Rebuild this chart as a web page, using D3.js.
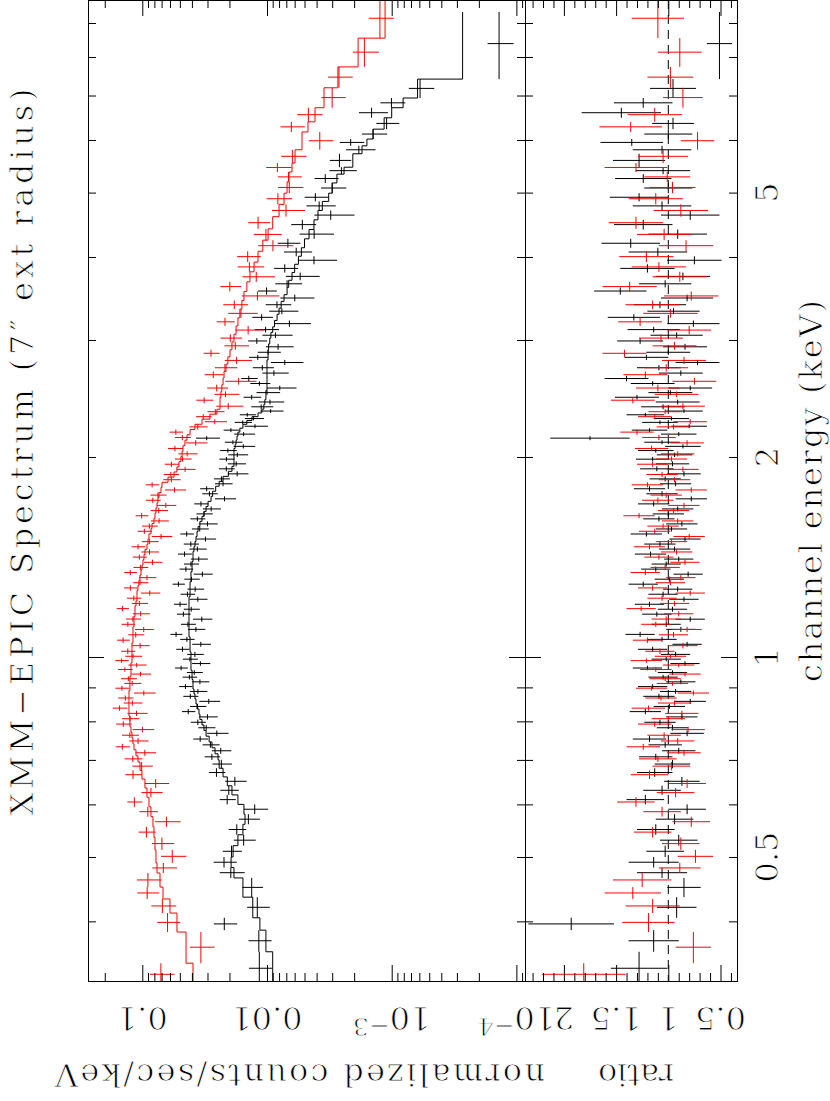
<!DOCTYPE html>
<html><head><meta charset="utf-8">
<script src="https://cdn.jsdelivr.net/npm/d3@7"></script>
<style>body{margin:0;background:#fff}svg{display:block}text{font-family:"DejaVu Serif","Liberation Serif",serif;fill:#000;stroke:#fff;stroke-width:0.9px}</style>
</head><body>
<svg id="c" width="830" height="1101"></svg>
<script>
// ---- black data set (energy bin edges in keV, model in counts/s/keV, data/model ratio and its error)
const blackEdges = [0.32,0.360,0.388,0.405,0.435,0.465,0.482,
 0.500,0.520,0.540,0.560,0.580,0.600,0.620,0.640,0.660,0.680,
 0.700,0.715,0.730,0.745,0.760,0.775,0.790,0.805,0.820,0.835,0.850,0.865,0.880,0.895,0.910,0.925,0.940,0.955,0.970,0.985,
 1.000,1.018,1.036,1.054,1.072,1.091,1.110,1.130,1.150,1.170,1.190,1.211,1.232,1.254,1.276,1.298,1.321,1.344,1.368,1.392,
 1.416,1.441,1.466,1.492,1.518,1.545,1.572,1.600,1.628,1.656,1.685,1.715,1.745,1.776,1.807,1.838,1.870,1.903,1.936,1.970,
 2.00,2.03,2.06,2.09,2.12,2.15,2.18,2.21,2.24,2.27,2.30,2.33,2.36,2.40,2.44,2.48,2.52,2.56,2.60,2.65,
 2.70,2.75,2.80,2.85,2.90,2.96,3.02,3.08,3.14,3.21,3.28,3.35,3.43,3.51,3.60,3.69,3.79,3.90,4.01,4.13,
 4.26,4.40,4.55,4.70,4.85,
 4.99,5.17,5.33,5.46,5.72,5.88,6.02,6.23,6.48,6.71,6.94,7.41,9.35];
const blackModel = [0.0090,0.0102,0.0114,0.0130,0.0156,0.0184,0.0194,
 0.0187,0.0171,0.0156,0.0150,0.0153,0.0171,0.0191,0.0208,0.0225,0.0242,
 0.0247,0.0261,0.0276,0.0291,0.0308,0.0320,0.0332,0.0345,0.0351,0.0364,0.0371,0.0378,0.0385,0.0392,0.0392,0.0399,0.0399,0.0407,0.0407,0.0407,
 0.0407,0.0414,0.0414,0.0414,0.0422,0.0422,0.0422,0.0422,0.0422,0.0422,0.0422,0.0422,0.0414,0.0414,0.0414,0.0407,0.0407,0.0399,0.0399,0.0392,
 0.0392,0.0385,0.0378,0.0371,0.0364,0.0357,0.0345,0.0332,0.0320,0.0308,0.0297,0.0281,0.0273,0.0258,0.0242,0.0225,0.0204,0.0191,0.0184,0.0184,
 0.0184,0.0184,0.0180,0.0177,0.0174,0.0171,0.0165,0.0156,0.0145,0.0132,0.0118,0.0110,0.0106,0.0104,0.0102,0.0102,0.0100,0.0100,0.0100,0.0100,
 0.0100,0.0100,0.0098,0.0098,0.0097,0.0095,0.0093,0.0090,0.0087,0.0083,0.0080,0.0077,0.0073,0.0069,0.0067,0.0063,0.0060,0.0056,0.0053,0.0050,
 0.0046,0.0042,0.0039,0.0036,0.0032,
 0.0030,0.00275,0.00241,0.00205,0.00173,0.00158,0.00141,0.00115,0.00100,0.00081,0.00062,0.00027];
const blackRatio = [1.28,1.14,1.93,0.92,0.85,1.06,1.14,
 1.03,0.90,1.12,0.94,0.82,1.22,1.06,0.87,1.13,0.96,
 1.12,0.90,1.03,1.18,0.82,0.96,1.08,0.87,1.22,0.99,0.79,1.09,0.93,1.15,0.88,1.05,0.96,1.20,0.84,1.02,
 0.93,1.15,0.82,1.06,1.27,0.88,1.02,0.79,1.11,0.96,1.18,0.85,1.05,0.91,1.24,0.99,0.81,1.12,1.02,0.90,
 1.17,0.94,1.08,0.84,1.21,0.97,0.87,1.09,1.00,0.91,1.14,0.78,1.06,1.18,0.93,1.03,0.85,1.11,0.96,1.15,
 0.94,1.12,0.86,1.06,1.75,0.90,1.18,0.80,1.08,0.97,1.22,0.85,1.05,0.91,1.30,0.98,0.79,1.15,1.40,0.88,
 1.09,0.72,1.21,1.00,0.84,1.27,0.92,1.14,0.76,1.33,0.95,1.08,0.82,1.46,1.03,0.86,1.20,0.75,1.10,1.36,
 0.91,1.24,0.79,1.06,1.28,
 1.00,1.24,1.05,1.28,1.06,1.35,1.00,0.955,1.45,1.24,0.955,0.51];
const blackRatioErr = [0.27,0.24,0.41,0.19,0.16,0.24,0.24,
 0.18,0.18,0.18,0.18,0.18,0.18,0.18,0.17,0.17,0.17,
 0.16,0.16,0.16,0.16,0.16,0.15,0.15,0.15,0.15,0.15,0.15,0.15,0.15,0.14,0.14,0.14,0.14,0.14,0.14,0.14,
 0.14,0.14,0.14,0.14,0.14,0.14,0.14,0.14,0.14,0.14,0.14,0.14,0.14,0.14,0.14,0.14,0.14,0.14,0.14,0.14,
 0.15,0.15,0.15,0.15,0.15,0.15,0.15,0.15,0.15,0.15,0.15,0.15,0.15,0.15,0.15,0.15,0.16,0.16,0.16,0.16,
 0.17,0.17,0.17,0.17,0.38,0.17,0.17,0.17,0.17,0.17,0.18,0.18,0.21,0.21,0.21,0.21,0.21,0.21,0.21,0.21,
 0.21,0.21,0.21,0.21,0.21,0.22,0.25,0.25,0.25,0.25,0.25,0.25,0.25,0.25,0.25,0.26,0.26,0.26,0.28,0.28,
 0.28,0.28,0.28,0.28,0.28,
 0.23,0.27,0.26,0.25,0.28,0.30,0.23,0.20,0.38,0.28,0.22,0.12];

// ---- red data set
const redEdges = [0.32,0.346,0.3855,0.4117,0.4323,0.4505,0.473,0.4898,
 0.5125,0.535,0.555,0.575,0.595,0.615,0.635,0.655,0.675,0.695,0.710,0.725,0.740,0.755,0.770,0.785,0.800,0.815,0.830,0.845,
 0.860,0.875,0.890,0.905,0.920,0.935,0.950,0.965,0.980,0.995,
 1.010,1.030,1.050,1.070,1.090,1.110,1.130,1.151,1.172,1.193,1.215,1.237,1.259,1.282,1.305,1.328,1.352,1.376,1.401,1.426,
 1.452,1.478,1.505,1.532,1.560,1.588,1.617,1.646,1.676,1.706,1.737,1.768,1.800,1.832,1.865,1.899,1.933,1.968,
 2.004,2.04,2.08,2.12,2.16,2.20,2.24,2.28,2.32,2.36,2.41,2.46,2.51,2.57,2.63,2.69,2.76,2.83,2.90,2.98,
 3.06,3.15,3.24,3.34,3.44,3.55,3.67,3.80,3.93,4.08,4.24,4.41,4.60,4.80,
 4.99,5.19,5.37,5.54,5.80,6.17,6.39,6.71,7.19,7.73,8.54,9.76];
const redModel = [0.0392,0.0446,0.0527,0.0600,0.0682,0.0721,0.0762,0.0777,
 0.0791,0.0806,0.0821,0.0852,0.0884,0.0917,0.0952,0.1006,0.1043,0.1083,0.1123,0.1166,0.1188,0.1210,0.1232,0.1256,0.1256,0.1279,0.1279,0.1279,
 0.1279,0.1279,0.1256,0.1256,0.1256,0.1232,0.1232,0.1232,0.1210,0.1210,
 0.1210,0.1210,0.1188,0.1188,0.1188,0.1166,0.1166,0.1144,0.1144,0.1123,0.1103,0.1103,0.1083,0.1063,0.1043,0.1024,0.1006,0.0987,0.0969,0.0952,
 0.0917,0.0900,0.0884,0.0852,0.0836,0.0806,0.0791,0.0777,0.0762,0.0749,0.0735,0.0708,0.0695,0.0622,0.0557,0.0527,0.0508,0.0490,
 0.0480,0.0472,0.0455,0.0438,0.0414,0.0378,0.0332,0.0287,0.0252,0.0238,0.0238,0.0234,0.0230,0.0225,0.0221,0.0213,0.0206,0.0198,0.0191,0.0184,
 0.0177,0.0171,0.0165,0.0159,0.0153,0.0145,0.0137,0.0127,0.0118,0.0108,0.0098,0.0090,0.0080,0.0073,
 0.0069,0.00666,0.0063,0.00596,0.00524,0.00469,0.00412,0.00349,0.00270,0.00186,0.00113];
const redRatio = [1.81,0.76,1.19,1.15,1.34,1.25,0.89,0.74,
 0.88,1.15,0.78,1.06,1.31,0.93,0.82,1.18,0.97,1.10,0.85,1.24,0.91,1.04,0.81,1.13,1.00,0.87,1.19,0.94,
 1.07,0.76,1.16,0.96,1.03,0.84,1.12,0.90,1.21,0.98,
 1.08,0.86,1.20,0.95,0.82,1.12,1.02,0.90,1.26,0.94,1.06,0.79,1.15,0.98,0.88,1.22,1.03,0.84,1.09,0.92,
 1.18,0.97,0.80,1.13,1.05,0.91,1.28,0.95,0.85,1.10,1.02,0.78,1.20,0.94,1.06,0.86,1.15,0.97,
 0.91,1.16,0.82,1.09,1.30,0.95,0.79,1.13,1.03,0.86,1.34,0.92,1.10,0.75,1.22,1.02,0.85,1.42,0.94,1.07,
 0.80,1.27,0.98,1.15,0.78,1.37,0.89,1.09,1.21,0.83,1.04,1.31,0.88,1.12,
 0.96,1.01,1.31,1.05,0.72,1.36,1.13,0.86,0.98,0.89,1.10];
const redRatioErr = [0.40,0.17,0.25,0.26,0.27,0.28,0.20,0.17,
 0.18,0.18,0.18,0.18,0.18,0.18,0.18,0.18,0.18,0.18,0.16,0.16,0.16,0.16,0.16,0.16,0.16,0.16,0.16,0.16,
 0.15,0.15,0.15,0.15,0.15,0.15,0.15,0.15,0.15,0.15,
 0.14,0.14,0.14,0.14,0.14,0.14,0.14,0.14,0.14,0.14,0.14,0.14,0.14,0.14,0.14,0.14,0.14,0.14,0.14,0.15,
 0.15,0.15,0.15,0.15,0.15,0.15,0.15,0.15,0.15,0.15,0.15,0.15,0.15,0.15,0.15,0.15,0.15,0.15,
 0.16,0.16,0.16,0.16,0.16,0.16,0.16,0.16,0.16,0.21,0.21,0.21,0.21,0.21,0.21,0.21,0.21,0.21,0.21,0.21,
 0.21,0.21,0.26,0.26,0.26,0.26,0.26,0.26,0.26,0.26,0.26,0.26,0.26,0.26,
 0.22,0.22,0.30,0.24,0.16,0.30,0.26,0.19,0.22,0.21,0.25];

// ---- axis labels
const energyLabelTicks = [0.5, 1, 2, 5];
const energyMajorTicks = [1];
const energyMinorTicks = [0.4, 0.5, 0.6, 0.7, 0.8, 0.9, 2, 3, 4, 5, 6, 7, 8, 9];
const countLabelTicks = [0.1, 0.01, 0.001, 0.0001];
const countLabelText = ["0.1", "0.01", "10", "10"];
const countLabelExp = ["", "", "\u22123", "\u22124"];
const ratioLabelTicks = [0.5, 1, 1.5, 2];
const ratioLabelText = ["0.5", "1", "1.5", "2"];
const titleText = "XMM\u2212EPIC Spectrum (7\u2033 ext radius)";
const energyTitle = "channel energy (keV)";
const countTitle = "normalized counts/sec/keV";
const ratioTitle = "ratio";

// ---- layout
const L = 88, MID = 525, R = 737, T = 0, B = 981;
const svg = d3.select("#c");

const yE = d3.scaleLog().domain([0.32532, 9.747]).range([B, T]);
const xC = d3.scaleLog().domain([0.2725, 8.53e-5]).range([L, MID]);
const xR = d3.scaleLinear().domain([2.3726, 0.342]).range([MID, R]);

function mkBins(edges, model, ratio, err) {
  return model.map((m, i) => ({lo: edges[i], hi: edges[i + 1], mid: (edges[i] + edges[i + 1]) / 2, m, r: ratio[i], e: err[i]}));
}
const sets = [
  {color: "#000", bins: mkBins(blackEdges, blackModel, blackRatio, blackRatioErr)},
  {color: "#ff0000", bins: mkBins(redEdges, redModel, redRatio, redRatioErr)}
];

const defs = svg.append("defs");
defs.append("clipPath").attr("id", "cu").append("rect").attr("x", L).attr("y", T).attr("width", MID - L).attr("height", B - T);
defs.append("clipPath").attr("id", "cl").append("rect").attr("x", MID).attr("y", T).attr("width", R - MID).attr("height", B - T);

const up = svg.append("g").attr("clip-path", "url(#cu)");
const lo = svg.append("g").attr("clip-path", "url(#cl)");

lo.append("line").attr("x1", xR(1)).attr("x2", xR(1)).attr("y1", T).attr("y2", B)
  .attr("stroke", "#000").attr("stroke-width", 1).attr("stroke-dasharray", "9,6");

const stepLine = d3.line().x(d => xC(d[1])).y(d => yE(d[0]));

sets.forEach(s => {
  const gU = up.append("g").attr("stroke", s.color).attr("stroke-width", 1).attr("fill", "none");
  gU.selectAll("line.h").data(s.bins).join("line").attr("class", "h")
    .attr("x1", d => xC(d.m * (d.r - d.e))).attr("x2", d => xC(d.m * (d.r + d.e)))
    .attr("y1", d => yE(d.mid)).attr("y2", d => yE(d.mid));
  gU.selectAll("line.v").data(s.bins).join("line").attr("class", "v")
    .attr("x1", d => xC(d.m * d.r)).attr("x2", d => xC(d.m * d.r))
    .attr("y1", d => yE(d.lo)).attr("y2", d => yE(d.hi));
  const pts = [];
  s.bins.forEach(d => { pts.push([d.lo, d.m]); pts.push([d.hi, d.m]); });
  gU.append("path").attr("d", stepLine(pts));

  const gL = lo.append("g").attr("stroke", s.color).attr("stroke-width", 1);
  gL.selectAll("line.h").data(s.bins).join("line").attr("class", "h")
    .attr("x1", d => xR(d.r - d.e)).attr("x2", d => xR(d.r + d.e))
    .attr("y1", d => yE(d.mid)).attr("y2", d => yE(d.mid));
  gL.selectAll("line.v").data(s.bins).join("line").attr("class", "v")
    .attr("x1", d => xR(d.r)).attr("x2", d => xR(d.r))
    .attr("y1", d => yE(d.lo)).attr("y2", d => yE(d.hi));
});

// ---- ticks
function ticks(axisFn, scale, values, size, tx, ty) {
  svg.append("g").attr("transform", `translate(${tx},${ty})`)
    .call(axisFn(scale).tickValues(values).tickSize(size).tickFormat(""))
    .call(g => g.select(".domain").remove())
    .call(g => g.selectAll("line").attr("stroke", "#000"));
}
[[d3.axisRight, L], [d3.axisLeft, MID], [d3.axisRight, MID], [d3.axisLeft, R]].forEach(([f, x]) => {
  ticks(f, yE, energyMinorTicks, 8, x, 0);
  ticks(f, yE, energyMajorTicks, 16, x, 0);
});
const countMajor = countLabelTicks;
const countMinor = xC.ticks().filter(v => !countMajor.some(m => Math.abs(v / m - 1) < 1e-6));
ticks(d3.axisBottom, xC, countMinor, 8, 0, T);
ticks(d3.axisBottom, xC, countMajor, 16, 0, T);
ticks(d3.axisTop, xC, countMinor, 8, 0, B);
ticks(d3.axisTop, xC, countMajor, 16, 0, B);
const ratioMinor = d3.range(4, 24).map(i => i / 10).filter(v => !ratioLabelTicks.some(m => Math.abs(v - m) < 1e-6));
ticks(d3.axisBottom, xR, ratioMinor, 8, 0, T);
ticks(d3.axisBottom, xR, ratioLabelTicks, 16, 0, T);
ticks(d3.axisTop, xR, ratioMinor, 8, 0, B);
ticks(d3.axisTop, xR, ratioLabelTicks, 16, 0, B);

svg.append("rect").attr("x", L + 0.5).attr("y", T + 0.5).attr("width", R - L).attr("height", B - T)
  .attr("fill", "none").attr("stroke", "#000").attr("stroke-width", 1);
svg.append("line").attr("x1", MID + 0.5).attr("x2", MID + 0.5).attr("y1", T).attr("y2", B)
  .attr("stroke", "#000").attr("stroke-width", 1);

// ---- texts
const FS = 32;
function label(tf, str, len) {
  const t = svg.append("text").attr("transform", tf).attr("text-anchor", "middle").attr("font-size", FS);
  if (len) t.attr("textLength", len).attr("lengthAdjust", "spacing");
  t.text(str);
  return t;
}
label("translate(33,452) rotate(-90)", titleText, 727);
label("translate(822,491) rotate(-90)", energyTitle, 382);

energyLabelTicks.forEach(v => label(`translate(778,${yE(v)}) rotate(-90)`, String(v)));

countLabelTicks.forEach((v, i) => {
  const t = svg.append("text").attr("transform", `translate(${xC(v)},1007) rotate(180)`)
    .attr("text-anchor", "middle").attr("font-size", FS);
  t.append("tspan").text(countLabelText[i]);
  if (countLabelExp[i]) t.append("tspan").attr("dy", -11).attr("font-size", 25).text(countLabelExp[i]);
});
ratioLabelTicks.forEach((v, i) => label(`translate(${xR(v)},1007) rotate(180)`, ratioLabelText[i]));

label("translate(300,1064) rotate(180)", countTitle, 490);
label("translate(636,1064) rotate(180)", ratioTitle, 76);
</script>
</body></html>
